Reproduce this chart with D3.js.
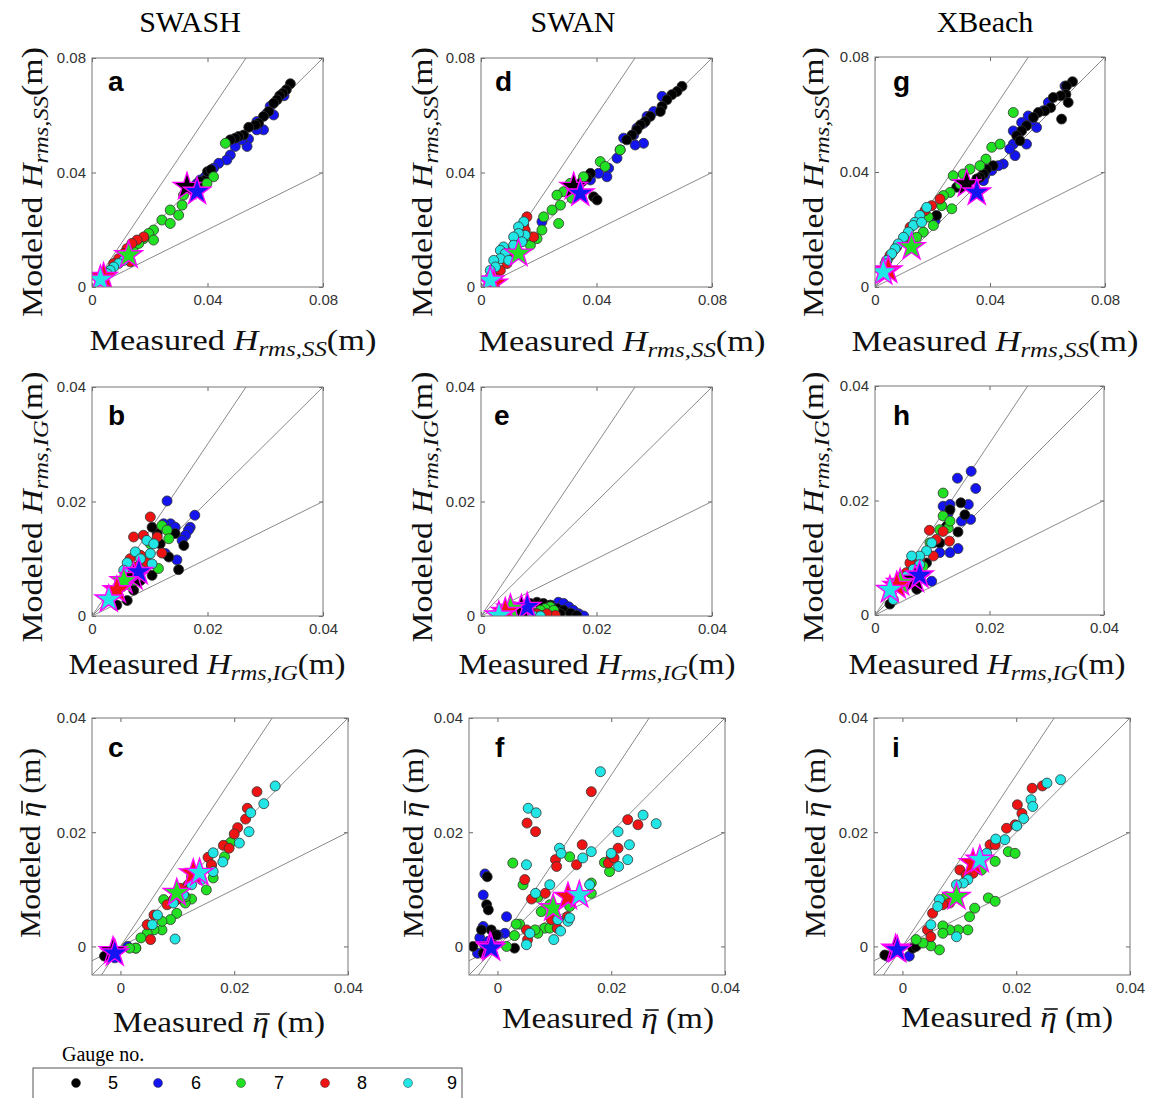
<!DOCTYPE html>
<html>
<head>
<meta charset="utf-8">
<script src="https://cdn.jsdelivr.net/npm/d3@7"></script>
<style>
body { margin: 0; background: #fff; }
</style>
</head>
<body>
<svg id="fig" width="1149" height="1098"></svg>
<script>
// gauge numbers and their marker colours
const gauges = [5, 6, 7, 8, 9];
const gaugeColors = ["#000000", "#1414f0", "#22e022", "#ee1414", "#22e6e6"];
const drawOrder = [1, 0, 2, 3, 4];   // blue under black, as in the figure
const models = ["SWASH", "SWAN", "XBeach"];
const ticksSS = [0, 0.04, 0.08];
const ticksIG = [0, 0.02, 0.04];
const ticksEta = [0, 0.02, 0.04];
const ratioLines = [0.5, 1, 1.5];   // modeled = k * measured

// each panel: one list of [measured, modeled] per gauge (5..9)
const swashSS = [
  [[0.0687,0.0710],[0.0673,0.0689],[0.0661,0.0677],[0.0650,0.0668],[0.0641,0.0654],[0.0629,0.0642],[0.0612,0.0613],[0.0594,0.0596],[0.0577,0.0572],[0.0566,0.0566],[0.0543,0.0558],[0.0525,0.0531],[0.0508,0.0526],[0.0496,0.0520],[0.0479,0.0514],[0.0392,0.0374],[0.0375,0.0368],[0.0352,0.0350],[0.0400,0.0403],[0.0412,0.0410]],
  [[0.0606,0.0607],[0.0629,0.0601],[0.0594,0.0549],[0.0571,0.0549],[0.0542,0.0517],[0.0537,0.0491],[0.0519,0.0514],[0.0496,0.0491],[0.0479,0.0461],[0.0467,0.0444],[0.0439,0.0432],[0.0421,0.0415],[0.0410,0.0399],[0.0392,0.0385],[0.0375,0.0374],[0.0364,0.0362],[0.0571,0.0578],[0.0617,0.0631],[0.0665,0.0668]],
  [[0.0462,0.0502],[0.0421,0.0385],[0.0398,0.0362],[0.0317,0.0321],[0.0312,0.0286],[0.0271,0.0269],[0.0300,0.0251],[0.0242,0.0234],[0.0271,0.0222],[0.0213,0.0199],[0.0196,0.0187],[0.0213,0.0164],[0.0179,0.0169],[0.0144,0.0140],[0.0162,0.0152],[0.0127,0.0117]],
  [[0.0179,0.0175],[0.0156,0.0164],[0.0138,0.0152],[0.0121,0.0134],[0.0110,0.0117],[0.0092,0.0099],[0.0075,0.0082],[0.0063,0.0058],[0.0052,0.0047],[0.0133,0.0088]],
  [[0.0110,0.0093],[0.0092,0.0082],[0.0075,0.0070],[0.0063,0.0058],[0.0052,0.0047],[0.0040,0.0035],[0.0029,0.0029]]
];
const swashSSMean = [[0.0329,0.0350],[0.0364,0.0333],[0.0127,0.0111],[0.0040,0.0035],[0.0029,0.0026]];

const swanSS = [
  [[0.0696,0.0701],[0.0679,0.0683],[0.0661,0.0672],[0.0644,0.0654],[0.0627,0.0631],[0.0621,0.0613],[0.0586,0.0596],[0.0569,0.0578],[0.0552,0.0566],[0.0540,0.0549],[0.0523,0.0531],[0.0505,0.0514],[0.0379,0.0397],[0.0367,0.0380],[0.0350,0.0368],[0.0390,0.0315],[0.0402,0.0304],[0.0315,0.0350]],
  [[0.0627,0.0666],[0.0598,0.0613],[0.0575,0.0596],[0.0563,0.0572],[0.0540,0.0555],[0.0529,0.0531],[0.0494,0.0520],[0.0482,0.0479],[0.0563,0.0502],[0.0534,0.0496],[0.0471,0.0450],[0.0442,0.0415],[0.0436,0.0385],[0.0407,0.0397],[0.0379,0.0374],[0.0211,0.0228]],
  [[0.0482,0.0479],[0.0413,0.0438],[0.0430,0.0421],[0.0355,0.0385],[0.0309,0.0362],[0.0286,0.0333],[0.0263,0.0321],[0.0315,0.0310],[0.0275,0.0286],[0.0246,0.0269],[0.0217,0.0245],[0.0269,0.0222],[0.0211,0.0199],[0.0171,0.0175],[0.0194,0.0169],[0.0171,0.0146]],
  [[0.0159,0.0245],[0.0148,0.0216],[0.0153,0.0199],[0.0182,0.0175],[0.0142,0.0164],[0.0119,0.0158],[0.0107,0.0123],[0.0078,0.0105],[0.0090,0.0082],[0.0067,0.0058],[0.0055,0.0029]],
  [[0.0148,0.0228],[0.0130,0.0210],[0.0153,0.0181],[0.0130,0.0187],[0.0113,0.0175],[0.0142,0.0158],[0.0078,0.0140],[0.0067,0.0128],[0.0084,0.0117],[0.0067,0.0099],[0.0044,0.0093],[0.0050,0.0070],[0.0032,0.0058],[0.0032,0.0035],[0.0096,0.0093],[0.0113,0.0146]]
];
const swanSSMean = [[0.0321,0.0350],[0.0344,0.0327],[0.0130,0.0117],[0.0044,0.0012],[0.0032,0.0023]];

const xbeachSS = [
  [[0.0687,0.0714],[0.0666,0.0699],[0.0664,0.0670],[0.0672,0.0642],[0.0646,0.0665],[0.0649,0.0584],[0.0620,0.0659],[0.0611,0.0624],[0.0591,0.0613],[0.0568,0.0607],[0.0551,0.0590],[0.0527,0.0561],[0.0510,0.0543],[0.0493,0.0526],[0.0504,0.0509],[0.0411,0.0422],[0.0388,0.0410],[0.0377,0.0393],[0.0365,0.0381],[0.0354,0.0376],[0.0319,0.0358],[0.0284,0.0347],[0.0214,0.0249]],
  [[0.0661,0.0699],[0.0603,0.0642],[0.0585,0.0613],[0.0562,0.0555],[0.0545,0.0578],[0.0533,0.0595],[0.0510,0.0572],[0.0481,0.0543],[0.0498,0.0520],[0.0487,0.0457],[0.0527,0.0497],[0.0481,0.0497],[0.0469,0.0480],[0.0446,0.0428],[0.0429,0.0422],[0.0406,0.0405],[0.0382,0.0387],[0.0377,0.0370],[0.0209,0.0231]],
  [[0.0481,0.0607],[0.0406,0.0486],[0.0435,0.0497],[0.0386,0.0445],[0.0365,0.0422],[0.0330,0.0410],[0.0307,0.0393],[0.0272,0.0387],[0.0296,0.0358],[0.0261,0.0329],[0.0238,0.0318],[0.0232,0.0283],[0.0267,0.0272],[0.0185,0.0243],[0.0203,0.0214],[0.0168,0.0191],[0.0145,0.0173],[0.0110,0.0162]],
  [[0.0226,0.0306],[0.0197,0.0283],[0.0174,0.0266],[0.0145,0.0225],[0.0122,0.0208],[0.0104,0.0173],[0.0075,0.0139],[0.0052,0.0110],[0.0041,0.0092]],
  [[0.0180,0.0277],[0.0156,0.0249],[0.0139,0.0225],[0.0133,0.0214],[0.0116,0.0191],[0.0099,0.0173],[0.0081,0.0150],[0.0070,0.0133],[0.0058,0.0116],[0.0041,0.0092],[0.0035,0.0081],[0.0162,0.0225]]
];
const xbeachSSMean = [[0.0319,0.0358],[0.0354,0.0329],[0.0127,0.0139],[0.0046,0.0058],[0.0029,0.0052]];

const swashIG = [
  [[0.0150,0.0081],[0.0159,0.0123],[0.0144,0.0144],[0.0133,0.0103],[0.0118,0.0126],[0.0104,0.0071],[0.0095,0.0088],[0.0084,0.0062],[0.0072,0.0045],[0.0061,0.0027],[0.0043,0.0019],[0.0113,0.0144],[0.0104,0.0155]],
  [[0.0130,0.0201],[0.0178,0.0176],[0.0170,0.0155],[0.0167,0.0150],[0.0162,0.0141],[0.0136,0.0161],[0.0144,0.0155],[0.0127,0.0109],[0.0147,0.0098],[0.0124,0.0161],[0.0156,0.0132]],
  [[0.0121,0.0158],[0.0130,0.0150],[0.0133,0.0135],[0.0101,0.0126],[0.0115,0.0083],[0.0089,0.0091],[0.0078,0.0068],[0.0075,0.0062]],
  [[0.0101,0.0173],[0.0072,0.0138],[0.0089,0.0141],[0.0113,0.0138],[0.0121,0.0110],[0.0066,0.0100],[0.0078,0.0086],[0.0061,0.0068],[0.0084,0.0106],[0.0052,0.0051],[0.0095,0.0094]],
  [[0.0095,0.0132],[0.0107,0.0126],[0.0101,0.0109],[0.0075,0.0112],[0.0061,0.0093],[0.0084,0.0100],[0.0104,0.0091],[0.0055,0.0080],[0.0069,0.0071],[0.0049,0.0056]]
];
const swashIGMean = [[0.0072,0.0068],[0.0081,0.0077],[0.0055,0.0061],[0.0043,0.0045],[0.0029,0.0029]];

const swanIG = [
  [[0.0097,0.0024],[0.0108,0.0022],[0.0120,0.0019],[0.0132,0.0013],[0.0143,0.0010],[0.0155,0.0005],[0.0166,0.0001],[0.0085,0.0022],[0.0074,0.0016],[0.0137,0.0004]],
  [[0.0134,0.0024],[0.0143,0.0022],[0.0152,0.0016],[0.0160,0.0010],[0.0169,0.0004],[0.0178,0.0000],[0.0155,0.0005]],
  [[0.0120,0.0016],[0.0111,0.0013],[0.0103,0.0010],[0.0057,0.0016],[0.0091,0.0005],[0.0126,0.0010]],
  [[0.0108,0.0001],[0.0120,0.0000],[0.0129,0.0001],[0.0085,0.0007],[0.0097,0.0004],[0.0051,0.0004],[0.0114,0.0004]],
  [[0.0080,0.0000],[0.0091,0.0000],[0.0071,0.0003],[0.0033,0.0000],[0.0103,0.0000]]
];
const swanIGMean = [[0.0070,0.0012],[0.0080,0.0016],[0.0051,0.0013],[0.0042,0.0007],[0.0031,0.0001]];

const xbeachIG = [
  [[0.0150,0.0196],[0.0157,0.0175],[0.0145,0.0145],[0.0131,0.0184],[0.0102,0.0126],[0.0113,0.0126],[0.0090,0.0091],[0.0073,0.0045],[0.0026,0.0019],[0.0125,0.0155]],
  [[0.0168,0.0251],[0.0144,0.0239],[0.0176,0.0221],[0.0119,0.0190],[0.0131,0.0193],[0.0163,0.0193],[0.0167,0.0167],[0.0151,0.0164],[0.0145,0.0116],[0.0131,0.0109],[0.0113,0.0109],[0.0099,0.0059],[0.0128,0.0178]],
  [[0.0119,0.0213],[0.0119,0.0173],[0.0128,0.0152],[0.0113,0.0149],[0.0096,0.0126],[0.0084,0.0085],[0.0067,0.0068],[0.0064,0.0091],[0.0131,0.0164]],
  [[0.0095,0.0148],[0.0119,0.0146],[0.0130,0.0129],[0.0107,0.0132],[0.0102,0.0103],[0.0078,0.0097],[0.0061,0.0091],[0.0055,0.0074],[0.0052,0.0056]],
  [[0.0099,0.0126],[0.0090,0.0112],[0.0078,0.0103],[0.0064,0.0103],[0.0078,0.0088],[0.0067,0.0080],[0.0055,0.0068],[0.0044,0.0056],[0.0032,0.0027]]
];
const xbeachIGMean = [[0.0070,0.0062],[0.0078,0.0069],[0.0044,0.0056],[0.0038,0.0051],[0.0026,0.0044]];

const swashEta = [
  [[-0.0028,-0.0017],[0.0027,-0.0003],[-0.0016,-0.0009]],
  [[-0.0010,-0.0020],[0.0013,0.0000],[-0.0019,-0.0012]],
  [[0.0194,0.0182],[0.0183,0.0157],[0.0160,0.0141],[0.0163,0.0120],[0.0151,0.0099],[0.0125,0.0083],[0.0114,0.0076],[0.0099,0.0058],[0.0076,0.0082],[0.0088,0.0047],[0.0073,0.0029],[0.0073,0.0044],[0.0059,0.0029],[0.0047,0.0023],[0.0036,0.0015],[0.0027,-0.0003],[0.0016,-0.0003],[0.0114,0.0087]],
  [[0.0240,0.0271],[0.0223,0.0242],[0.0220,0.0223],[0.0206,0.0208],[0.0200,0.0197],[0.0181,0.0177],[0.0191,0.0172],[0.0154,0.0156],[0.0160,0.0143],[0.0125,0.0122],[0.0119,0.0108],[0.0105,0.0102],[0.0093,0.0082],[0.0082,0.0073],[0.0059,0.0055],[0.0047,0.0038],[0.0053,0.0012],[0.0099,0.0082]],
  [[0.0272,0.0281],[0.0252,0.0250],[0.0229,0.0234],[0.0226,0.0201],[0.0209,0.0181],[0.0163,0.0164],[0.0180,0.0148],[0.0163,0.0131],[0.0125,0.0108],[0.0111,0.0090],[0.0093,0.0076],[0.0065,0.0055],[0.0056,0.0038],[0.0096,0.0013],[0.0142,0.0117]]
];
const swashEtaMean = [[-0.0013,-0.0008],[-0.0010,-0.0012],[0.0099,0.0094],[0.0128,0.0128],[0.0139,0.0129]];

const swanEta = [
  [[-0.0018,0.0122],[-0.0019,0.0073],[-0.0016,0.0064],[-0.0011,0.0029],[-0.0028,0.0029],[-0.0043,0.0000],[-0.0002,0.0020],[0.0030,-0.0003],[-0.0025,-0.0012],[-0.0008,0.0003]],
  [[-0.0022,0.0127],[-0.0025,0.0090],[0.0016,0.0052],[-0.0025,0.0035],[0.0013,0.0023],[-0.0031,0.0015],[-0.0022,0.0000],[-0.0035,-0.0012],[-0.0016,0.0009],[0.0001,0.0020]],
  [[0.0027,0.0146],[0.0045,0.0108],[0.0127,0.0157],[0.0165,0.0111],[0.0188,0.0147],[0.0197,0.0131],[0.0165,0.0093],[0.0071,0.0086],[0.0077,0.0061],[0.0092,0.0073],[0.0127,0.0070],[0.0083,0.0032],[0.0092,0.0032],[0.0071,0.0023],[0.0039,0.0039],[0.0033,0.0039],[0.0030,0.0019],[0.0016,0.0000],[0.0066,0.0029]],
  [[0.0165,0.0271],[0.0052,0.0216],[0.0067,0.0201],[0.0149,0.0178],[0.0229,0.0222],[0.0247,0.0213],[0.0212,0.0172],[0.0200,0.0157],[0.0195,0.0146],[0.0205,0.0155],[0.0102,0.0152],[0.0104,0.0140],[0.0139,0.0143],[0.0048,0.0117],[0.0060,0.0083],[0.0084,0.0093],[0.0123,0.0052],[0.0105,0.0032],[0.0095,0.0047],[0.0053,0.0012],[0.0051,0.0029]],
  [[0.0181,0.0306],[0.0054,0.0242],[0.0068,0.0234],[0.0256,0.0230],[0.0279,0.0215],[0.0212,0.0201],[0.0109,0.0172],[0.0112,0.0163],[0.0165,0.0166],[0.0232,0.0178],[0.0200,0.0163],[0.0213,0.0140],[0.0229,0.0152],[0.0150,0.0155],[0.0051,0.0143],[0.0092,0.0108],[0.0067,0.0093],[0.0124,0.0044],[0.0127,0.0050],[0.0106,0.0047],[0.0111,0.0027],[0.0099,0.0012],[0.0051,0.0003],[0.0057,0.0023],[0.0162,0.0108]]
];
const swanEtaMean = [[-0.0013,0.0000],[-0.0011,-0.0003],[0.0098,0.0067],[0.0124,0.0087],[0.0144,0.0090]];

const xbeachEta = [
  [[-0.0031,-0.0015],[0.0018,-0.0003],[0.0024,0.0000]],
  [[-0.0027,-0.0017],[0.0012,-0.0017],[-0.0015,-0.0006]],
  [[0.0163,0.0149],[0.0186,0.0166],[0.0198,0.0163],[0.0151,0.0085],[0.0163,0.0079],[0.0127,0.0067],[0.0118,0.0052],[0.0115,0.0029],[0.0098,0.0029],[0.0083,0.0029],[0.0071,0.0036],[0.0071,0.0023],[0.0065,-0.0006],[0.0050,0.0001],[0.0036,0.0006],[0.0024,0.0012],[0.0077,0.0087],[0.0139,0.0134]],
  [[0.0246,0.0281],[0.0228,0.0277],[0.0202,0.0248],[0.0210,0.0233],[0.0198,0.0213],[0.0183,0.0207],[0.0154,0.0178],[0.0163,0.0178],[0.0101,0.0134],[0.0124,0.0128],[0.0112,0.0125],[0.0083,0.0076],[0.0053,0.0058],[0.0044,0.0029],[0.0050,0.0017],[0.0071,0.0073]],
  [[0.0278,0.0292],[0.0254,0.0286],[0.0226,0.0257],[0.0229,0.0245],[0.0213,0.0224],[0.0201,0.0211],[0.0180,0.0187],[0.0164,0.0188],[0.0148,0.0163],[0.0115,0.0117],[0.0107,0.0111],[0.0095,0.0108],[0.0065,0.0082],[0.0062,0.0070],[0.0050,0.0038],[0.0095,0.0017]]
];
const xbeachEtaMean = [[-0.0012,-0.0004],[-0.0009,-0.0006],[0.0095,0.0087],[0.0124,0.0146],[0.0136,0.0152]];

// panel layout: box = [left, top, width, height]
const panels = [
  {id:"a", kind:"SS",  data:swashSS,   mean:swashSSMean,   dom:[0,0.08],     ticks:ticksSS,  box:[92,58,231,229],  letter:[108,91],  xl:[233,350],  yl:[42,182]},
  {id:"d", kind:"SS",  data:swanSS,    mean:swanSSMean,    dom:[0,0.08],     ticks:ticksSS,  box:[481,58,231,229], letter:[495,91],  xl:[622,351],  yl:[432,182]},
  {id:"g", kind:"SS",  data:xbeachSS,  mean:xbeachSSMean,  dom:[0,0.08],     ticks:ticksSS,  box:[875,57,230,230], letter:[893,91],  xl:[995,351],  yl:[823,182]},
  {id:"b", kind:"IG",  data:swashIG,   mean:swashIGMean,   dom:[0,0.04],     ticks:ticksIG,  box:[92,387,231,229], letter:[108,425], xl:[207,674],  yl:[42,507]},
  {id:"e", kind:"IG",  data:swanIG,    mean:swanIGMean,    dom:[0,0.04],     ticks:ticksIG,  box:[481,387,231,229],letter:[494,425], xl:[597,674],  yl:[432,507]},
  {id:"h", kind:"IG",  data:xbeachIG,  mean:xbeachIGMean,  dom:[0,0.04],     ticks:ticksIG,  box:[875,386,229,229],letter:[893,425], xl:[987,674],  yl:[823,507]},
  {id:"c", kind:"Eta", data:swashEta,  mean:swashEtaMean,  dom:[-0.005,0.04],ticks:ticksEta, box:[92,718,256,257], letter:[108,757], xl:[219,1032], yl:[40,843]},
  {id:"f", kind:"Eta", data:swanEta,   mean:swanEtaMean,   dom:[-0.005,0.04],ticks:ticksEta, box:[469,718,256,257],letter:[495,757], xl:[608,1028], yl:[423,843]},
  {id:"i", kind:"Eta", data:xbeachEta, mean:xbeachEtaMean, dom:[-0.005,0.04],ticks:ticksEta, box:[874,718,256,257],letter:[892,757], xl:[1007,1027],yl:[825,843]}
];

const labelLen = {SS:[287,270], IG:[277,271], Eta:[212,190]};

const svg = d3.select("#fig");
const serif = "'Liberation Serif', 'Times New Roman', serif";
const sans = "'Liberation Sans', Arial, sans-serif";
const fmt = d => d === 0 ? "0" : d3.format(".2f")(d);

// column titles
const titleX = [190, 573, 985];
svg.selectAll("text.title").data(models).join("text")
  .attr("class", "title")
  .attr("x", (d, i) => titleX[i]).attr("y", 32)
  .attr("text-anchor", "middle")
  .attr("font-family", serif).attr("font-size", 30)
  .text(d => d);

// axis label in its own group; eta gets a drawn bar
function axisLabel(g, kind, who, transform, len) {
  const lg = g.append("g").attr("transform", transform);
  const t = lg.append("text")
    .attr("text-anchor", "middle")
    .attr("font-family", serif).attr("font-size", 29)
    .attr("fill", "#111");
  t.append("tspan").text(who + " ");
  if (kind === "Eta") {
    t.append("tspan").attr("font-style", "italic").text("\u03B7");
    t.append("tspan").text(" (m)");
  } else {
    t.append("tspan").attr("font-style", "italic").text("H");
    t.append("tspan").attr("font-style", "italic").attr("font-size", 21).attr("dy", 6)
      .text(kind === "SS" ? "rms,SS" : "rms,IG");
    t.append("tspan").attr("dy", -6).text("(m)");
  }
  t.attr("textLength", len).attr("lengthAdjust", "spacingAndGlyphs");
  if (kind === "Eta") {
    const ext = t.node().getExtentOfChar(who.length + 1);
    lg.append("line")
      .attr("x1", ext.x + 4).attr("x2", ext.x + ext.width + 1)
      .attr("y1", -18).attr("y2", -18)
      .attr("stroke", "#111").attr("stroke-width", 1.6);
  }
}

panels.forEach(p => {
  const [bx, by, bw, bh] = p.box;
  const x = d3.scaleLinear().domain(p.dom).range([bx, bx + bw]);
  const y = d3.scaleLinear().domain(p.dom).range([by + bh, by]);
  const g = svg.append("g").attr("class", "panel-" + p.id);

  g.append("clipPath").attr("id", "clip-" + p.id)
    .append("rect").attr("x", bx).attr("y", by).attr("width", bw).attr("height", bh);

  // axes: labels outside, MATLAB-style ticks inside
  const styleAxis = sel => {
    sel.select(".domain").remove();
    sel.selectAll(".tick line").attr("stroke", "#666");
    sel.selectAll(".tick text").attr("font-family", sans).attr("font-size", 15).attr("fill", "#333");
  };
  g.append("g").attr("transform", `translate(0,${by + bh})`)
    .call(d3.axisBottom(x).tickValues(p.ticks).tickSize(-4).tickPadding(7).tickFormat(fmt)).call(styleAxis);
  g.append("g").attr("transform", `translate(${bx},0)`)
    .call(d3.axisLeft(y).tickValues(p.ticks).tickSize(-4).tickPadding(6).tickFormat(fmt)).call(styleAxis);
  g.append("g").attr("transform", `translate(0,${by})`)
    .call(d3.axisTop(x).tickValues(p.ticks).tickSize(-4).tickFormat("")).call(styleAxis);
  g.append("g").attr("transform", `translate(${bx + bw},0)`)
    .call(d3.axisRight(y).tickValues(p.ticks).tickSize(-4).tickFormat("")).call(styleAxis);

  const inner = g.append("g").attr("clip-path", `url(#clip-${p.id})`);

  // 1:2, 1:1, 3:2 reference lines
  const line = d3.line().x(d => x(d[0])).y(d => y(d[1]));
  inner.selectAll("path.ratio").data(ratioLines).join("path")
    .attr("class", "ratio")
    .attr("d", k => line([[p.dom[0], k * p.dom[0]], [p.dom[1], k * p.dom[1]]]))
    .attr("fill", "none").attr("stroke", "#8a8a8a").attr("stroke-width", 1);

  const pts = drawOrder.flatMap(gi => p.data[gi].map(v => ({gi, m: v[0], s: v[1]})));
  inner.selectAll("circle").data(pts).join("circle")
    .attr("cx", d => x(d.m)).attr("cy", d => y(d.s)).attr("r", 5)
    .attr("fill", d => gaugeColors[d.gi])
    .attr("stroke", "#333").attr("stroke-width", 0.8);

  // mean of each gauge as a star
  inner.selectAll("path.star").data(p.mean).join("path")
    .attr("class", "star")
    .attr("transform", d => `translate(${x(d[0])},${y(d[1])})`)
    .attr("d", d3.symbol(d3.symbolStar, 230))
    .attr("fill", (d, i) => gaugeColors[i])
    .attr("stroke", "#ff00ff").attr("stroke-width", 1.4);

  g.append("rect").attr("x", bx).attr("y", by).attr("width", bw).attr("height", bh)
    .attr("fill", "none").attr("stroke", "#777").attr("stroke-width", 1);

  g.append("text").attr("x", p.letter[0]).attr("y", p.letter[1])
    .attr("font-family", sans).attr("font-weight", "bold").attr("font-size", 28)
    .text(p.id);

  const [lx, ly] = labelLen[p.kind];
  axisLabel(g, p.kind, "Measured", `translate(${p.xl[0]},${p.xl[1]})`, lx);
  axisLabel(g, p.kind, "Modeled", `translate(${p.yl[0]},${p.yl[1]}) rotate(-90)`, ly);
});

// legend
const legX = [76, 158, 241, 325, 408];
const legT = [113, 196, 279, 362, 452];
svg.append("text").attr("x", 62).attr("y", 1061)
  .attr("font-family", serif).attr("font-size", 20).text("Gauge no.");
svg.append("rect").attr("x", 33).attr("y", 1068).attr("width", 429).attr("height", 40)
  .attr("fill", "#fff").attr("stroke", "#555").attr("stroke-width", 1);
const leg = svg.selectAll("g.leg").data(gauges).join("g").attr("class", "leg");
leg.append("circle").attr("cx", (d, i) => legX[i]).attr("cy", 1083).attr("r", 4.5)
  .attr("fill", (d, i) => gaugeColors[i]).attr("stroke", "#333").attr("stroke-width", 0.5);
leg.append("text").attr("x", (d, i) => legT[i]).attr("y", 1089)
  .attr("text-anchor", "middle").attr("font-family", sans).attr("font-size", 18)
  .text(d => d);
</script>
</body>
</html>
